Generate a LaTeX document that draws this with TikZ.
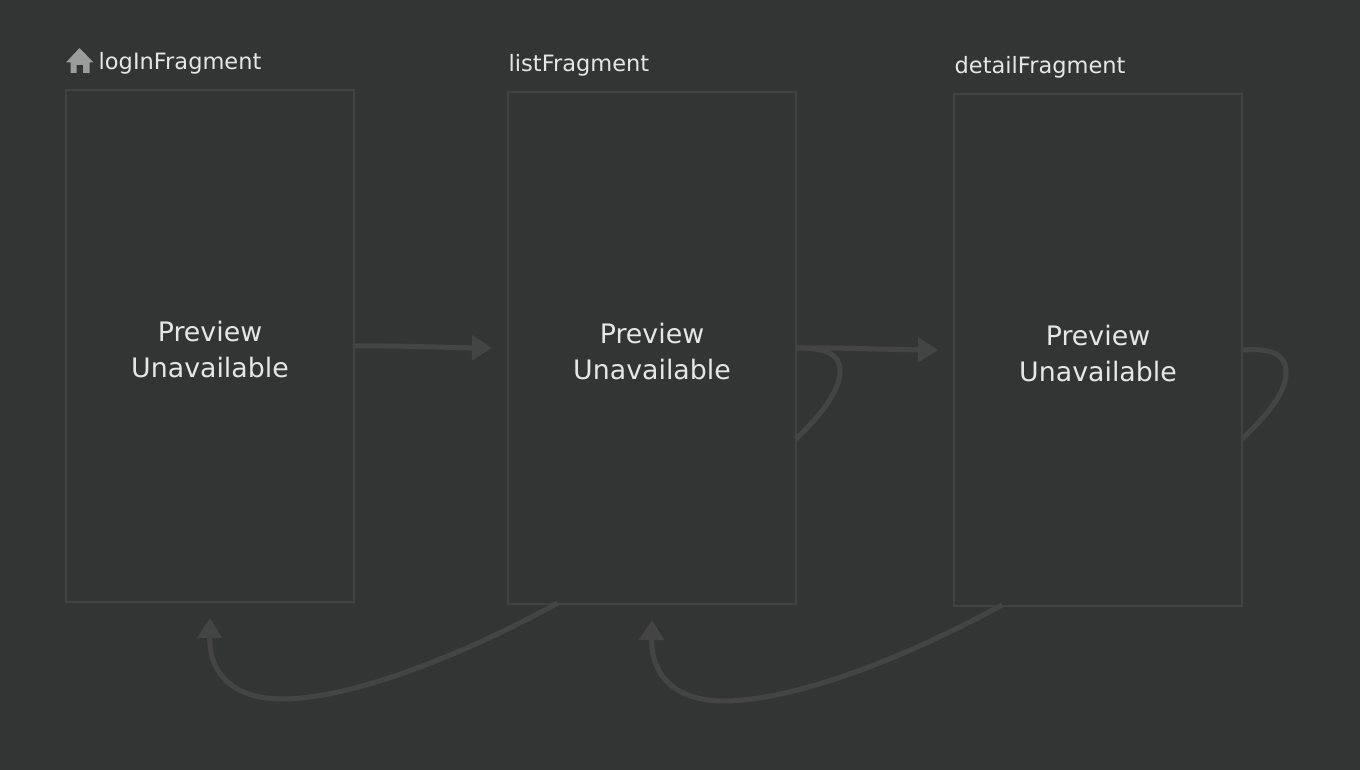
\documentclass[tikz,border=0pt]{standalone}
\usepackage{fontspec}
\setmainfont{DejaVu Sans}
\usetikzlibrary{arrows.meta}
\definecolor{canvas}{HTML}{333534}
\definecolor{frameline}{HTML}{414342}
\definecolor{actionline}{HTML}{444444}
\definecolor{labeltext}{HTML}{E6E6E6}
\definecolor{homeicon}{HTML}{9C9C9C}
\begin{document}
\begin{tikzpicture}[x=1pt,y=-1pt,
                    screen/.style={draw=frameline,line width=2pt,minimum width=288pt,minimum height=512pt,inner sep=0pt},
                    preview/.style={align=center,inner sep=0pt,yshift=-4pt,text=labeltext,font=\fontsize{26.8}{36}\selectfont},
                    title/.style={anchor=base west,inner sep=0pt,text=labeltext,font=\fontsize{22.5}{27}\selectfont},
                    action/.style={draw=actionline,line width=5pt},
                    tip/.style={-{Triangle[length=20pt,width=24pt]}}]
 \fill[canvas] (0,0) rectangle (1360,770);
 \useasboundingbox (0,0) rectangle (1360,770);
 \node[screen] (login) at (210,346) {};
 \node[screen] (list) at (652,348) {};
 \node[screen] (detail) at (1098,350) {};
 \node[preview] (login text) at (login) {Preview\\Unavailable};
 \node[preview] (list text) at (list) {Preview\\Unavailable};
 \node[preview] (detail text) at (detail) {Preview\\Unavailable};
 \node[title] (login title) at (98.5,70) {logInFragment};
 \node[title] (list title) at (508.5,72) {listFragment};
 \node[title] (detail title) at (954.5,74) {detailFragment};
 \fill[homeicon] (79.5,48)--(93.5,62.5)--(89.5,62.5)--(89.5,73)--(83,73)--(83,65)--(76.5,65)--(76.5,73)--(70.5,73)--(70.5,62.5)--(66,62.5)--cycle;
 % forward actions
 \coordinate (list in) at (492,348);
 \coordinate (detail in) at (938,350);
 \draw[action,tip] (login.east) .. controls (400,345.5) and (440,347.5) .. (list in);
 \draw[action,tip] (list.east) .. controls (842,347.5) and (882,349.5) .. (detail in);
 % self actions
 \coordinate (list self) at (796,439);
 \coordinate (detail self) at (1242,439);
 \draw[action] (list.east) .. controls (826,348) and (840,354) .. (840,371) .. controls (840,392) and (818,418) .. (list self);
 \draw[action] (detail.east) .. controls (1272,348) and (1286,354) .. (1286,373) .. controls (1286,394) and (1264,418) .. (detail self);
 % pop actions
 \coordinate (login back) at (210,618);
 \coordinate (list back) at (652,620);
 \coordinate (list out) at (558,603);
 \coordinate (detail out) at (1002,605);
 \draw[action,tip] (list out) .. controls (450,662) and (345,699) .. (282,699) .. controls (235,699) and (209,675) .. (login back);
 \draw[action,tip] (detail out) .. controls (894,664) and (788,701) .. (724,701) .. controls (677,701) and (651,677) .. (list back);
\end{tikzpicture}
\end{document}
